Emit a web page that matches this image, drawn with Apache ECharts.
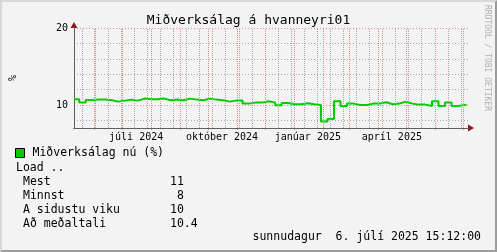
<!DOCTYPE html>
<html>
<head>
<meta charset="utf-8">
<script src="https://cdn.jsdelivr.net/npm/echarts@6/dist/echarts.min.js"></script>
<style>
html, body { margin: 0; padding: 0; background: #f3f3f3; }
#chart { position: absolute; left: 0; top: 0; width: 497px; height: 252px; }
#frame { position: absolute; left: 0; top: 0; width: 497px; height: 252px; box-sizing: border-box;
  border: 2px solid; border-color: #d8d8d8 #9c9c9c #9c9c9c #d8d8d8; pointer-events: none; }
</style>
</head>
<body>
<div id="chart"></div>
<div id="frame"></div>
<script>
// x = jours depuis le 1er janvier 2024
const startDay = 130.4;
const endDay = 552.6;
const firstValue = 10.74;           // bout de semaine avant le premier jeudi
const weekStart = 136;              // premier jeudi (16 mai 2024)
const lastDay = 551.2;              // fin du trait vert
const weeklyLoad = [
  10.30, 10.65, 10.69, 10.69, 10.61, 10.43, 10.56, 10.69, 10.56, 10.82,
  10.74, 10.74, 10.82, 10.61, 10.69, 10.61, 10.82, 10.69, 10.61, 10.82,
  10.69, 10.61, 10.43, 10.56, 10.56, 10.17, 10.30, 10.30, 10.48, 10.30,
  9.96, 10.26, 10.09, 10.09, 10.22, 10.09, 10.00, 7.83, 8.18, 10.48,
  9.87, 10.17, 10.00, 10.00, 10.17, 10.17, 10.35, 10.09, 10.17, 10.43,
  10.17, 10.04, 10.04, 9.87, 10.48, 9.87, 10.30, 9.87, 10.04
];
const monthStarts = [152, 182, 213, 244, 274, 305, 335, 366, 397, 425, 456, 486, 517, 547];
const minorFirst = 139;             // sunnudagur 19. maí 2024, toutes les 2 semaines
const labelDays = [197, 289, 381, 471];
const labelTexts = ['júli 2024', 'október 2024', 'janúar 2025', 'apríl 2025'];
const yMin = 7, yMax = 20;
const yMajor = [10, 20];
const yMinor = [8, 12, 14, 16, 18];
const seriesName = 'Miðverksálag nú (%)';
const statNames = ['Mest', 'Minnst', 'A sidustu viku', 'Að meðaltali'];
const statValues = ['11', ' 8', '10', '10.4'];
const dateText = 'sunnudagur  6. júlí 2025 15:12:00';

const MONO = '"DejaVu Sans Mono", monospace';
const RED = '#f08a8a';
const GRAY = '#a8a8a8';

const loadData = [[startDay, firstValue]];
weeklyLoad.forEach((v, i) => loadData.push([weekStart + 7 * i, v]));
loadData.push([lastDay, weeklyLoad[weeklyLoad.length - 1]]);

const dotted = color => ({ color: color, type: [1, 1], width: 1, opacity: 1 });
const vLines = [];
for (let d = minorFirst; d < endDay; d += 14) vLines.push({ xAxis: d, lineStyle: dotted(GRAY) });
monthStarts.forEach(d => vLines.push({ xAxis: d, lineStyle: dotted(RED) }));

// couleurs des lignes horizontales, une par unité de yMin à yMax
const hColors = [];
for (let v = yMin; v <= yMax; v++) {
  hColors.push(yMajor.includes(v) ? RED : (yMinor.includes(v) ? GRAY : 'rgba(0,0,0,0)'));
}

const chart = echarts.init(document.getElementById('chart'));

const baseX = { type: 'value', min: startDay, max: endDay, position: 'bottom', splitLine: { show: false } };
const baseY = { type: 'value', min: yMin, max: yMax, position: 'left', splitLine: { show: false } };

chart.setOption({
  animation: false,
  backgroundColor: 'transparent',
  title: {
    text: 'Miðverksálag á hvanneyri01',
    left: 'center', top: 9,
    textStyle: { fontFamily: MONO, fontSize: 13, fontWeight: 'normal', color: '#000' }
  },
  legend: {
    data: [{ name: seriesName, icon: 'rect' }],
    left: 15, top: 147, padding: 0, itemWidth: 9, itemHeight: 9,
    itemStyle: { borderColor: '#000', borderWidth: 1 },
    textStyle: { fontFamily: MONO, fontSize: 11.5, color: '#000', padding: [0, 0, 0, 3] }
  },
  grid: { left: 67, top: 28, right: 29, bottom: 124, containLabel: false },
  xAxis: [
    Object.assign({}, baseX, {
      z: 3,
      axisLine: { show: true, lineStyle: { color: '#606060', width: 1 } },
      axisTick: { show: false },
      axisLabel: {
        customValues: labelDays,
        formatter: v => labelTexts[labelDays.indexOf(v)] || '',
        fontFamily: MONO, fontSize: 10, color: '#000', margin: 4
      }
    }),
    Object.assign({}, baseX, {
      z: 2,
      axisLine: { show: true, onZero: false, symbol: ['none', 'triangle'], symbolSize: [7, 6], symbolOffset: [0, 3],
        lineStyle: { color: '#8b1a1a', width: 1 } },
      axisTick: { show: true, customValues: monthStarts, length: 2, lineStyle: { color: RED } },
      axisLabel: { show: false }
    })
  ],
  yAxis: [
    Object.assign({}, baseY, {
      z: 3,
      name: '%', nameLocation: 'middle', nameRotate: 90, nameGap: 56,
      nameTextStyle: { fontFamily: MONO, fontSize: 10, color: '#000' },
      axisLine: { show: true, lineStyle: { color: '#606060', width: 1 } },
      axisTick: { show: false },
      axisLabel: {
        customValues: yMajor,
        fontFamily: MONO, fontSize: 10, color: '#000', margin: 6
      }
    }),
    Object.assign({}, baseY, {
      // axe sous-jacent : flèche rouge + grille horizontale pointillée
      z: 2,
      interval: 1,
      axisLine: { show: true, onZero: false, symbol: ['none', 'triangle'], symbolSize: [7, 6], symbolOffset: [0, 3],
        lineStyle: { color: '#8b1a1a', width: 1 } },
      axisTick: { show: false },
      axisLabel: { show: false },
      splitLine: { show: true, lineStyle: { color: hColors, type: [1, 2], width: 1 } }
    })
  ],
  series: [
    {
      // série invisible qui porte la grille verticale pointillée
      name: 'vgrid', type: 'line', data: loadData, z: 1, silent: true,
      symbol: 'none', lineStyle: { opacity: 0 },
      markLine: { silent: true, symbol: ['none', 'none'], label: { show: false }, data: vLines }
    },
    {
      name: seriesName, type: 'line', step: 'end', data: loadData, z: 4,
      showSymbol: false, symbol: 'none',
      itemStyle: { color: '#00cc00' },
      lineStyle: { color: '#00cc00', width: 2 }
    }
  ],
  graphic: [
    { type: 'text', left: 16, top: 162, style: { text: 'Load ..', font: '11.5px ' + MONO, fill: '#000' } },
    ...statNames.map((s, i) => ({ type: 'text', left: 23, top: 176 + 14 * i,
      style: { text: s, font: '11.5px ' + MONO, fill: '#000' } })),
    ...statValues.map((s, i) => ({ type: 'text', left: 170, top: 176 + 14 * i,
      style: { text: s, font: '11.5px ' + MONO, fill: '#000', whiteSpace: 'pre' } })),
    { type: 'text', right: 16, top: 231, style: { text: dateText, font: '11.5px ' + MONO, fill: '#000' } },
    { type: 'text', x: 491, y: 5, rotation: -Math.PI / 2,
      style: { text: 'RRDTOOL / TOBI OETIKER', font: '8px ' + MONO, fill: '#b0b0b0' } }
  ]
});
</script>
</body>
</html>
